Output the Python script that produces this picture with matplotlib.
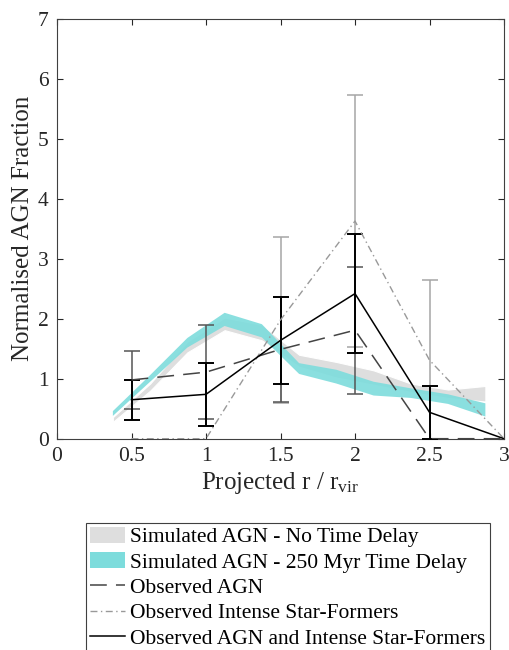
import numpy as np
import matplotlib
matplotlib.use('Agg')
import matplotlib.pyplot as plt
from matplotlib.patches import Patch
from matplotlib.lines import Line2D

plt.rcParams['font.family'] = 'Liberation Serif'
plt.rcParams['mathtext.fontset'] = 'custom'
plt.rcParams['mathtext.rm'] = 'Liberation Serif'
plt.rcParams['mathtext.it'] = 'Liberation Serif:italic'

# simulated bands (lower / upper edge)
r_sim = [0.375, 0.625, 0.875, 1.125, 1.375, 1.625, 1.875, 2.125, 2.375, 2.625, 2.875]
nodelay_lo = [0.28, 0.80, 1.44, 1.81, 1.64, 1.20, 1.02, 0.90, 0.78, 0.68, 0.62]
nodelay_hi = [0.36, 0.92, 1.62, 2.02, 1.90, 1.40, 1.28, 1.14, 0.92, 0.82, 0.88]
delay_lo = [0.38, 0.95, 1.52, 1.88, 1.69, 1.08, 0.92, 0.72, 0.68, 0.58, 0.37]
delay_hi = [0.46, 1.06, 1.68, 2.10, 1.91, 1.26, 1.15, 0.95, 0.84, 0.74, 0.59]

# observed points
r_obs = [0.5, 1.0, 1.5, 2.0, 2.5, 3.0]
agn = [0.98, 1.11, 1.49, 1.81, 0.0, 0.0]
agn_err = [0.49, 0.78, 0.87, 1.06, 0.0, 0.0]
sf = [0.0, 0.0, 1.98, 3.63, 1.31, 0.0]
sf_err = [0.0, 0.0, 1.39, 2.10, 1.33, 0.0]
both = [0.65, 0.74, 1.64, 2.42, 0.44, 0.0]
both_err = [0.33, 0.52, 0.73, 0.99, 0.44, 0.0]

xticks = [0, 0.5, 1, 1.5, 2, 2.5, 3]
xticklabels = ['0', '0.5', '1', '1.5', '2', '2.5', '3']

grey_fill = '#dedede'
cyan_fill = '#7ddcdc'

fig = plt.figure(figsize=(5.09, 6.5), dpi=100)
ax = fig.add_axes([57 / 509, 1 - 438.7 / 650, (504 - 57) / 509, (438.7 - 19) / 650])

ax.fill_between(r_sim, nodelay_lo, nodelay_hi, facecolor=grey_fill, edgecolor='white', lw=0.8, zorder=1)
ax.fill_between(r_sim, delay_lo, delay_hi, facecolor=cyan_fill, edgecolor='none', alpha=0.9, zorder=2)


def bars(y, err, color, lw):
    idx = [i for i in range(len(err)) if err[i] > 0]
    ax.errorbar([r_obs[i] for i in idx], [y[i] for i in idx], yerr=[err[i] for i in idx],
                fmt='none', ecolor=color, elinewidth=lw, capsize=5.5, capthick=lw, zorder=4)


bars(sf, sf_err, '#a6a6a6', 1.1)
bars(agn, agn_err, '#555555', 1.1)
bars(both, both_err, 'black', 1.4)

ax.plot(r_obs, agn, color='#444444', lw=1.1, ls=(0, (11, 6)), zorder=5)
ax.plot(r_obs, sf, color='#999999', lw=1.0, ls=(0, (5, 2.5, 1, 2.5)), zorder=5)
ax.plot(r_obs, both, color='black', lw=1.1, zorder=6)

ax.set_xlim(0, 3)
ax.set_ylim(0, 7)
ax.set_xticks(xticks)
ax.set_xticklabels(xticklabels)
ax.set_yticks(range(8))
ax.tick_params(direction='in', length=4, width=0.8, top=True, right=True,
               labelsize=15.5, colors='#262626', pad=6)
for s in ax.spines.values():
    s.set_color('#404040')
    s.set_linewidth(0.8)

ax.set_xlabel(r'Projected r / r$_{\rm vir}$', fontsize=18, color='#262626', labelpad=3)
ax.set_ylabel('Normalised AGN Fraction', fontsize=18, color='#262626', labelpad=3)

handles = [
    Patch(facecolor=grey_fill, edgecolor='none'),
    Patch(facecolor=cyan_fill, edgecolor='none'),
    Line2D([], [], color='#444444', lw=1.1, ls=(0, (11, 6))),
    Line2D([], [], color='#999999', lw=1.0, ls=(0, (5, 2.5, 1, 2.5))),
    Line2D([], [], color='black', lw=1.1),
]
labels = ['Simulated AGN - No Time Delay', 'Simulated AGN - 250 Myr Time Delay',
          'Observed AGN', 'Observed Intense Star-Formers',
          'Observed AGN and Intense Star-Formers']
leg = fig.legend(handles, labels, loc='upper left', bbox_to_anchor=(86 / 509, 1 - 522.7 / 650),
                 bbox_transform=fig.transFigure, borderaxespad=0, fontsize=15.5,
                 frameon=True, fancybox=False, framealpha=1, edgecolor='#404040',
                 borderpad=0.2, handlelength=1.63, handletextpad=0.23, labelspacing=0.23,
                 handleheight=0.75)
leg.get_frame().set_linewidth(0.8)

plt.savefig('out.png', dpi=100)
